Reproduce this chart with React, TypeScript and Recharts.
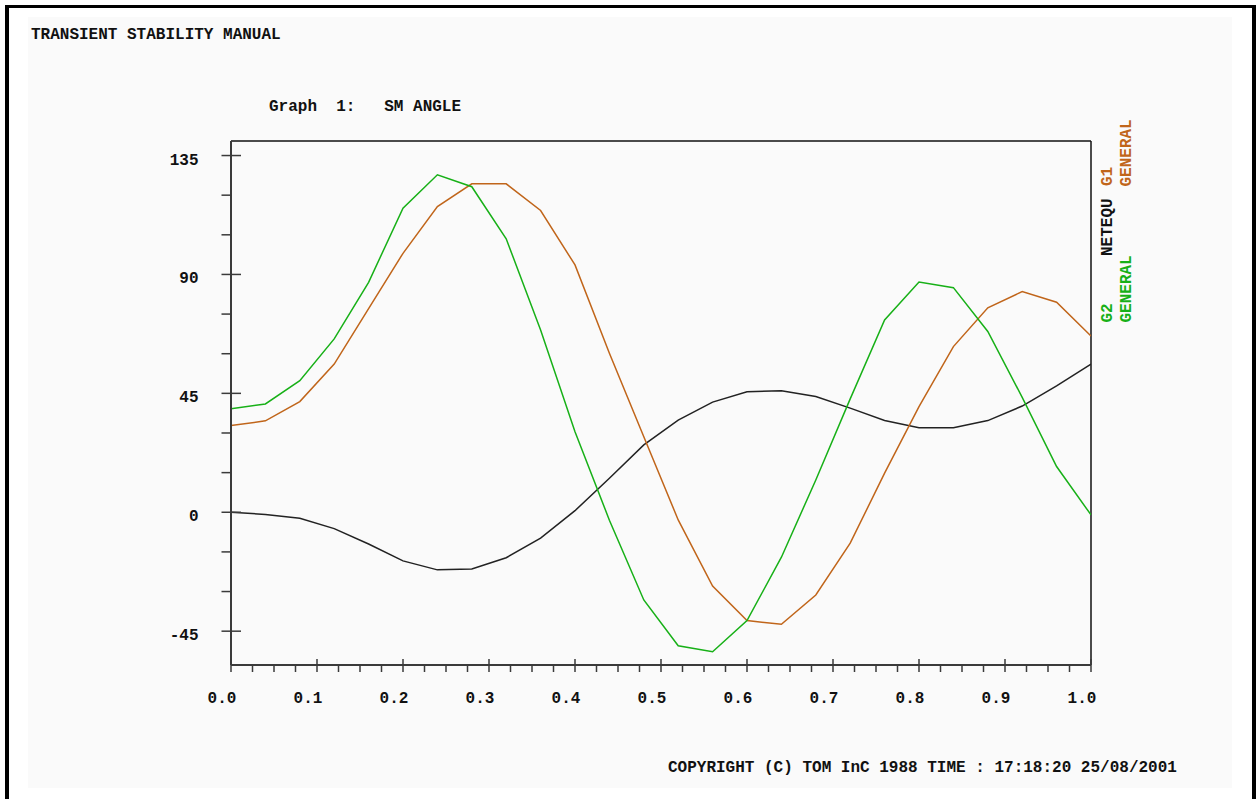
import { Line, LineChart, ReferenceLine, XAxis, YAxis } from "recharts";

// simulation time (s), one sample every 0.04 s
const time = [
  0.0, 0.04, 0.08, 0.12, 0.16, 0.2, 0.24, 0.28, 0.32, 0.36, 0.4, 0.44, 0.48,
  0.52, 0.56, 0.6, 0.64, 0.68, 0.72, 0.76, 0.8, 0.84, 0.88, 0.92, 0.96, 1.0
];

// SM angle (deg)
const g1General = [
  32.8, 34.6, 41.9, 56.1, 77.1, 98.0, 115.7, 124.3, 124.3, 114.2, 93.6, 60.2, 28.6,
  -2.9, -27.9, -41.0, -42.4, -31.3, -11.7, 14.8, 40.0, 62.7, 77.4, 83.5, 79.5, 66.7
];
const g2General = [
  39.2, 41.0, 49.8, 65.6, 87.0, 115.1, 127.7, 123.2, 103.5, 69.0, 30.5, -3.0, -33.2,
  -50.5, -52.8, -41.0, -17.0, 12.2, 42.9, 72.8, 87.1, 85.0, 68.4, 43.5, 17.3, -1.0
];
const netequ = [
  0.0, -0.8, -2.3, -6.2, -12.0, -18.4, -21.8, -21.5, -17.2, -9.8, 0.6, 12.9, 25.5,
  34.9, 41.7, 45.6, 46.0, 43.8, 39.4, 34.7, 32.0, 32.0, 34.7, 40.2, 47.8, 56.1
];

const xTicks = [
  0, 0.025, 0.05, 0.075, 0.1, 0.125, 0.15, 0.175, 0.2, 0.225, 0.25, 0.275, 0.3, 0.325,
  0.35, 0.375, 0.4, 0.425, 0.45, 0.475, 0.5, 0.525, 0.55, 0.575, 0.6, 0.625, 0.65, 0.675,
  0.7, 0.725, 0.75, 0.775, 0.8, 0.825, 0.85, 0.875, 0.9, 0.925, 0.95, 0.975, 1
];
const xLabelTicks = [0, 0.1, 0.2, 0.3, 0.4, 0.5, 0.6, 0.7, 0.8, 0.9, 1];
const yTicks = [-45, -30, -15, 0, 15, 30, 45, 60, 75, 90, 105, 120, 135];
const yLabelTicks = [-45, 0, 45, 90, 135];
const yDomain = [-57.8, 140.5];

const ORANGE = "#c0651a";
const GREEN = "#17b017";
const INK = "#111";
const AXIS = "#3a3a3a";
const FONT = "'Liberation Mono', 'DejaVu Sans Mono', monospace";

const data = time.map((t, i) => ({
  t,
  g1: g1General[i],
  g2: g2General[i],
  netequ: netequ[i]
}));

const textStyle = {
  fontFamily: FONT,
  fontWeight: 700,
  fontSize: 16,
  whiteSpace: "pre" as const
};

function XTick({ x, y, payload }: any) {
  const major = xLabelTicks.includes(payload.value);
  return (
    <g>
      <line x1={x} x2={x} y1={major ? y - 6 : y} y2={y + 7} stroke={AXIS} strokeWidth={1.5} />
      {major && (
        <text x={x - 9} y={y + 38} textAnchor="middle" fill={INK} style={textStyle}>
          {payload.value.toFixed(1)}
        </text>
      )}
    </g>
  );
}

function YTick({ x, y, payload }: any) {
  const major = yLabelTicks.includes(payload.value);
  return (
    <g>
      <line x1={x - 9.5} x2={major ? x + 10 : x} y1={y} y2={y} stroke={AXIS} strokeWidth={1.5} />
      {major && (
        <text x={x - 32.5} y={y + 9} textAnchor="end" fill={INK} style={textStyle}>
          {payload.value}
        </text>
      )}
    </g>
  );
}

function SideLabel({ x, y, color, children }: any) {
  return (
    <text transform={`translate(${x},${y}) rotate(-90)`} fill={color} style={textStyle} xmlSpace="preserve">
      {children}
    </text>
  );
}

export default function App() {
  return (
    <div style={{ position: "absolute", left: 0, top: 0, width: 1258, height: 799, overflow: "hidden", background: "#fff" }}>
      <div
        style={{
          position: "absolute",
          left: 5,
          top: 5,
          width: 1243,
          height: 800,
          borderTop: "3px solid #000",
          borderLeft: "4px solid #000",
          borderRight: "4px solid #000"
        }}
      />
      <div style={{ position: "absolute", left: 28, top: 17, width: 1204, height: 771, background: "#fafafa" }} />

      <div style={{ position: "absolute", left: 0, top: 0 }}>
        <LineChart width={1258} height={799} data={data} margin={{ top: 141, right: 167, bottom: 94, left: 171 }}>
          <XAxis
            dataKey="t"
            type="number"
            domain={[0, 1]}
            allowDataOverflow
            ticks={xTicks}
            interval={0}
            height={40}
            tickSize={0}
            tickMargin={0}
            tickLine={false}
            axisLine={{ stroke: AXIS, strokeWidth: 2 }}
            tick={(props: any) => <XTick {...props} />}
          />
          <YAxis
            type="number"
            domain={yDomain}
            allowDataOverflow
            ticks={yTicks}
            interval={0}
            width={60}
            tickSize={0}
            tickMargin={0}
            tickLine={false}
            axisLine={{ stroke: AXIS, strokeWidth: 2 }}
            tick={(props: any) => <YTick {...props} />}
          />
          <ReferenceLine y={yDomain[1]} stroke={INK} strokeWidth={1.5} />
          <ReferenceLine x={1} stroke={INK} strokeWidth={1.5} />
          <Line type="linear" dataKey="netequ" stroke="#222" strokeWidth={1.5} dot={false} isAnimationActive={false} />
          <Line type="linear" dataKey="g1" stroke={ORANGE} strokeWidth={1.5} dot={false} isAnimationActive={false} />
          <Line type="linear" dataKey="g2" stroke={GREEN} strokeWidth={1.5} dot={false} isAnimationActive={false} />
        </LineChart>
      </div>

      <svg width={1258} height={799} style={{ position: "absolute", left: 0, top: 0, pointerEvents: "none" }}>
        <text x={31} y={38.5} fill={INK} style={textStyle}>TRANSIENT STABILITY MANUAL</text>
        <text x={269} y={110.5} fill={INK} style={textStyle} xmlSpace="preserve">{"Graph  1:   SM ANGLE"}</text>
        <text x={668} y={771.5} fill={INK} style={textStyle}>COPYRIGHT (C) TOM InC 1988 TIME : 17:18:20 25/08/2001</text>

        <SideLabel x={1111.5} y={186} color={ORANGE}>G1</SideLabel>
        <SideLabel x={1111.5} y={256} color={INK}>NETEQU</SideLabel>
        <SideLabel x={1111.5} y={322.5} color={GREEN}>G2</SideLabel>
        <SideLabel x={1131} y={186.5} color={ORANGE}>GENERAL</SideLabel>
        <SideLabel x={1131} y={322.5} color={GREEN}>GENERAL</SideLabel>
      </svg>
    </div>
  );
}
